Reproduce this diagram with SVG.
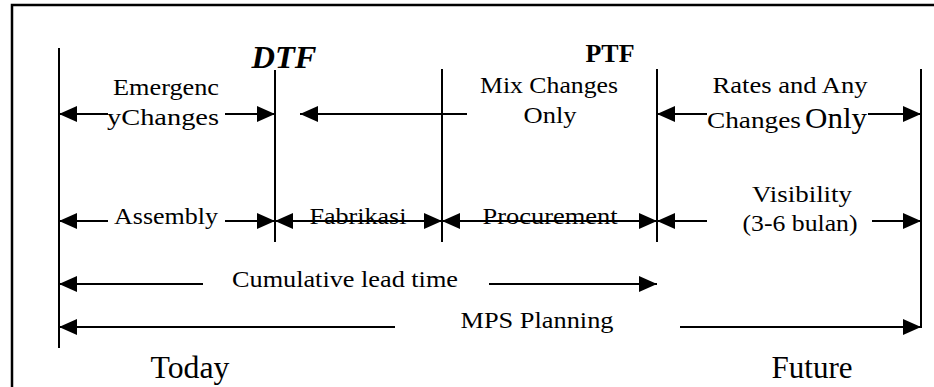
<svg xmlns="http://www.w3.org/2000/svg" width="934" height="387" viewBox="0 0 934 387">
<defs>
<style>
.t{font-family:"Liberation Serif","Times New Roman",serif;font-size:24px;fill:#000;text-anchor:middle}
.big{font-size:31px}
.ln{stroke:#000;stroke-width:2;fill:none}
.v{stroke:#000;stroke-width:2;fill:none}
.a{marker-end:url(#ah)}
.b{marker-start:url(#ah);marker-end:url(#ah)}
</style>
<marker id="ah" markerUnits="userSpaceOnUse" markerWidth="18" markerHeight="16" refX="18" refY="8" orient="auto-start-reverse">
<path d="M0,0 L18,8 L0,16 z" fill="#000"/>
</marker>
</defs>
<rect width="934" height="387" fill="#fff"/>
<rect x="12" y="5" width="940" height="400" fill="none" stroke="#000" stroke-width="2.5"/>
<g id="timelines">
<line class="v" x1="59" y1="48" x2="59" y2="348"/>
<line class="v" x1="275" y1="70" x2="275" y2="242"/>
<line class="v" x1="442" y1="69" x2="442" y2="242"/>
<line class="v" x1="657" y1="69" x2="657" y2="242"/>
<line class="v" x1="921" y1="69" x2="921" y2="328"/>
</g>
<g id="connectors">
<line class="ln a" x1="108" y1="114" x2="59" y2="114"/>
<line class="ln a" x1="225" y1="114" x2="275" y2="114"/>
<line class="ln a" x1="467" y1="114" x2="300" y2="114"/>
<line class="ln a" x1="707" y1="114" x2="657" y2="114"/>
<line class="ln a" x1="868" y1="114" x2="921" y2="114"/>
<line class="ln a" x1="108" y1="221" x2="59" y2="221"/>
<line class="ln a" x1="225" y1="221" x2="275" y2="221"/>
<line class="ln b" x1="275" y1="221" x2="442" y2="221"/>
<line class="ln b" x1="442" y1="221" x2="657" y2="221"/>
<line class="ln a" x1="707" y1="221" x2="657" y2="221"/>
<line class="ln a" x1="872" y1="221" x2="921" y2="221"/>
<line class="ln a" x1="203" y1="284" x2="59" y2="284"/>
<line class="ln a" x1="489" y1="284" x2="657" y2="284"/>
<line class="ln a" x1="395" y1="327" x2="59" y2="327"/>
<line class="ln a" x1="680" y1="327" x2="921" y2="327"/>
</g>
<g id="dtf"><text class="t" x="284" y="68" style="font-size:32px;font-weight:bold;font-style:italic" textLength="65" lengthAdjust="spacingAndGlyphs">DTF</text></g>
<g id="ptf"><text class="t" x="610" y="62" style="font-size:25px;font-weight:bold" textLength="49" lengthAdjust="spacingAndGlyphs">PTF</text></g>
<g id="emergency"><text class="t" x="166" y="95" textLength="106" lengthAdjust="spacingAndGlyphs">Emergenc</text><text class="t" x="163" y="125" textLength="112" lengthAdjust="spacingAndGlyphs">yChanges</text></g>
<g id="mix"><text class="t" x="549" y="93" textLength="138" lengthAdjust="spacingAndGlyphs">Mix Changes</text><text class="t" x="550" y="123" textLength="53" lengthAdjust="spacingAndGlyphs">Only</text></g>
<g id="rates"><text class="t" x="790" y="93" textLength="155" lengthAdjust="spacingAndGlyphs">Rates and Any</text><text class="t" x="707" y="128" style="text-anchor:start"><tspan textLength="94" lengthAdjust="spacingAndGlyphs">Changes</tspan><tspan x="805" style="font-size:30px" textLength="62" lengthAdjust="spacingAndGlyphs">Only</tspan></text></g>
<g id="assembly"><text class="t" x="166" y="224" textLength="104" lengthAdjust="spacingAndGlyphs">Assembly</text></g>
<g id="fabrikasi"><text class="t" x="358" y="224" textLength="97" lengthAdjust="spacingAndGlyphs">Fabrikasi</text></g>
<g id="procurement"><text class="t" x="550" y="224" textLength="135" lengthAdjust="spacingAndGlyphs">Procurement</text></g>
<g id="visibility"><text class="t" x="802" y="202" textLength="100" lengthAdjust="spacingAndGlyphs">Visibility</text><text class="t" x="800" y="231" textLength="115" lengthAdjust="spacingAndGlyphs">(3-6 bulan)</text></g>
<g id="cumulative"><text class="t" x="345" y="287" textLength="226" lengthAdjust="spacingAndGlyphs">Cumulative lead time</text></g>
<g id="mps"><text class="t" x="537" y="328" textLength="153" lengthAdjust="spacingAndGlyphs">MPS Planning</text></g>
<g id="today"><text class="t big" x="190" y="378" textLength="79" lengthAdjust="spacingAndGlyphs">Today</text></g>
<g id="future"><text class="t big" x="812" y="378" textLength="81" lengthAdjust="spacingAndGlyphs">Future</text></g>
</svg>
